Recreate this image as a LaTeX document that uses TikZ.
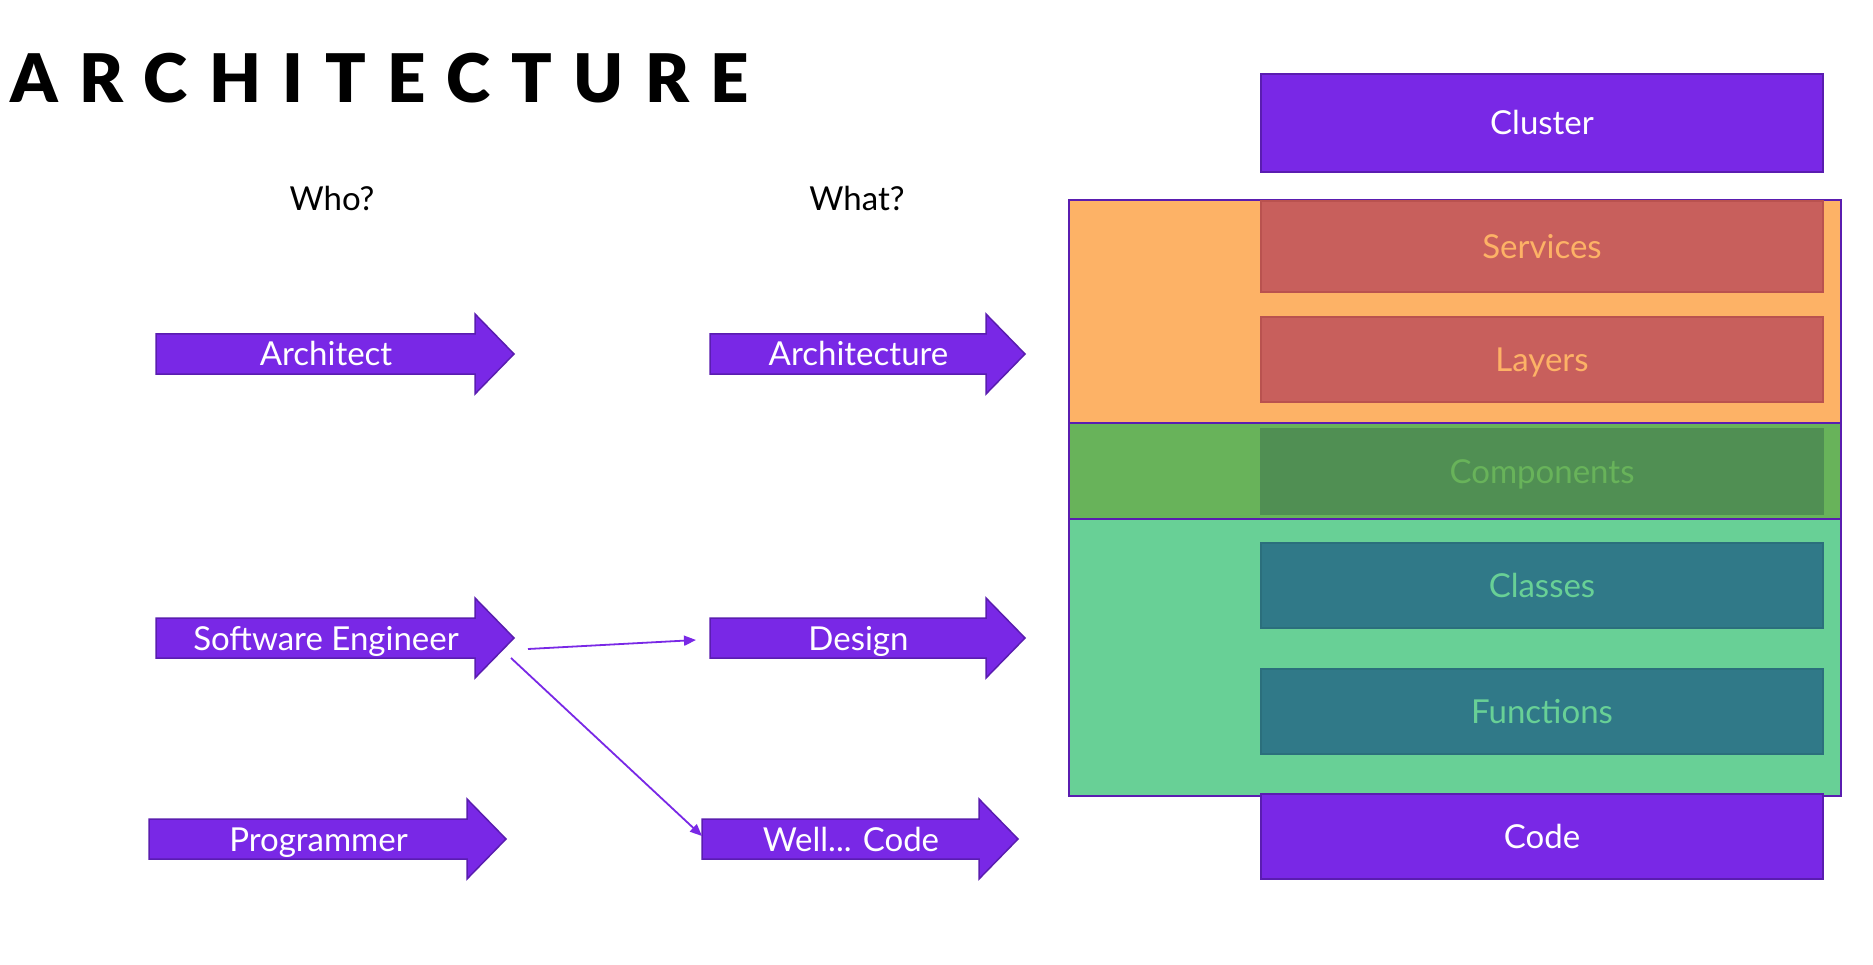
\documentclass[tikz,border=0pt]{standalone}
\usepackage{fontspec}
\setmainfont{Lato}
\newfontfamily\titlefont{Lato Black}[LetterSpace=32]
\usetikzlibrary{arrows.meta}
\definecolor{purp}{HTML}{7928E6}
\definecolor{purpdark}{HTML}{5A1DB0}
\definecolor{orng}{HTML}{FDB266}
\definecolor{redbox}{HTML}{C85F5C}
\definecolor{redline}{HTML}{B9524F}
\definecolor{grnbg}{HTML}{68B35A}
\definecolor{grnbox}{HTML}{508F53}
\definecolor{tealbg}{HTML}{68D096}
\definecolor{tealbox}{HTML}{307988}
\definecolor{tealline}{HTML}{2B6F7C}
\tikzset{
  bigarrowshape/.style={fill=purp, draw=purpdark, line width=1.5pt},
  lbl/.style={inner sep=0pt, text height=24pt, text depth=0pt, font=\fontsize{33}{40}\selectfont},
  arrowlabel/.style={lbl, text=white},
  boxnode/.style={lbl, minimum width=562pt, anchor=north west, line width=2pt},
  bgbox/.style={line width=2pt, draw=purpdark, inner sep=0pt, anchor=north west, minimum width=772pt},
  connector/.style={draw=purp, line width=1.8pt, -{Triangle[length=12pt,width=10pt]}},
}
\newcommand\bigarrow[6]{%
  \draw[bigarrowshape] (#2,#5-20) -- (#3,#5-20) -- (#3,#5-40) -- (#4,#5) -- (#3,#5+40) -- (#3,#5+20) -- (#2,#5+20) -- cycle;
  \coordinate (#1-tail) at (#2,#5);
  \node[arrowlabel] (#1) at ({(#2+#4)/2-9},#5) {#6};
}
\begin{document}
\begin{tikzpicture}[x=1pt,y=-1pt]
\useasboundingbox (0,0) rectangle (1873,965);
\fill[white] (0,0) rectangle (1873,965);

% title
\node[anchor=base west, inner sep=0pt, font=\titlefont\fontsize{67}{70}\selectfont] (title) at (10,103) {ARCHITECTURE};

% column headings
\node[lbl] (who) at (332,199) {Who?};
\node[lbl] (what) at (857,199) {What?};

% big arrows
\bigarrow{architect}{156}{475}{514}{354}{Architect}
\bigarrow{architecture}{710}{986}{1025}{354}{Architecture}
\bigarrow{se}{156}{475}{514}{638}{Software Engineer}
\bigarrow{design}{710}{986}{1025}{638}{Design}
\bigarrow{programmer}{149}{467}{506}{839}{Programmer}
\bigarrow{code}{702}{979}{1018}{839}{Well... Code}

% connectors
\coordinate (se-out1) at (528,649);
\coordinate (se-out2) at (511,658);
\coordinate (design-in) at (696,640);
\coordinate (code-in) at (702,836);
\draw[connector] (se-out1) -- (design-in);
\draw[connector] (se-out2) -- (code-in);

% layer backgrounds
\node[bgbox, fill=orng, minimum height=223pt] (orangebg) at (1068,199) {};
\node[bgbox, fill=grnbg, minimum height=96pt] (greenbg) at (1068,422) {};
\node[bgbox, fill=tealbg, minimum height=277pt] (tealbgbox) at (1068,518) {};

% inner boxes
\node[boxnode, fill=redbox, draw=redline, text=orng, minimum height=91pt] (services) at (1260,200) {Services};
\node[boxnode, fill=redbox, draw=redline, text=orng, minimum height=85pt] (layers) at (1260,316) {Layers};
\node[boxnode, fill=grnbox, draw=grnbox, text=grnbg, minimum height=85pt] (components) at (1260,428) {Components};
\node[boxnode, fill=tealbox, draw=tealline, text=tealbg, minimum height=85pt] (classes) at (1260,542) {Classes};
\node[boxnode, fill=tealbox, draw=tealline, text=tealbg, minimum height=85pt] (functions) at (1260,668) {Functions};
\node[boxnode, fill=purp, draw=purpdark, text=white, minimum height=85pt] (codebox) at (1260,793) {Code};
\node[boxnode, fill=purp, draw=purpdark, text=white, minimum height=98pt] (cluster) at (1260,73) {Cluster};
\end{tikzpicture}
\end{document}
